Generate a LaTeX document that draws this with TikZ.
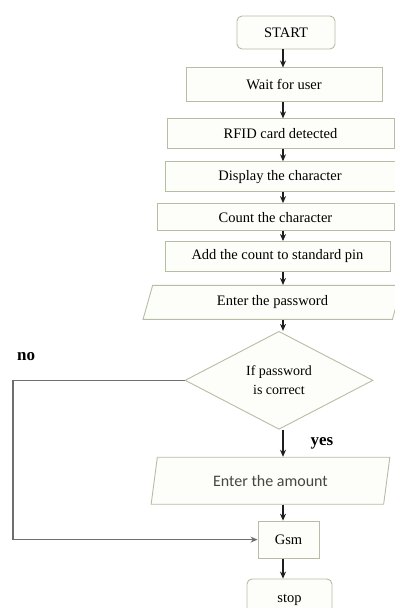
\documentclass[tikz,border=0pt]{standalone}
\usepackage{fontspec}
\setmainfont{Liberation Serif}
\newfontfamily\amountfont{Carlito}
\usepackage{tikz}
\usetikzlibrary{arrows.meta, positioning, shapes.geometric}
\definecolor{boxline}{RGB}{180, 190, 165}
\definecolor{boxfill}{RGB}{253, 253, 249}
\definecolor{arrowdark}{RGB}{30, 30, 30}
\definecolor{backgray}{RGB}{110, 110, 110}
\definecolor{amountgray}{RGB}{70, 70, 70}

\begin{document}
\begin{tikzpicture}[
  box/.style={rectangle, draw=boxline, fill=boxfill, line width=0.9pt,
              inner sep=2pt, text centered, font=\fontsize{14.5}{16}\selectfont},
  term/.style={box, rounded corners=5pt},
  io/.style={trapezium, trapezium stretches=true,
             trapezium left angle=75, trapezium right angle=105,
             draw=boxline, fill=boxfill, line width=0.9pt, inner sep=2pt,
             font=\fontsize{14.5}{16}\selectfont},
  decision/.style={diamond, draw=boxline, fill=boxfill, line width=0.9pt,
                   inner sep=0pt, align=center, font=\fontsize{14}{19}\selectfont},
  arrow/.style={-{Stealth[length=7pt, width=6pt]}, line width=1.1pt, draw=arrowdark},
  backline/.style={-{Stealth[length=7pt, width=6pt]}, line width=1.2pt, draw=backgray},
  branch/.style={font=\bfseries\fontsize{17}{19}\selectfont, inner sep=0pt}
]
\useasboundingbox (0,0) rectangle (395pt,-608pt);

\coordinate (axis) at (283pt,0);

\node[term, minimum width=98pt, minimum height=33pt] (start) at (286pt,-32.5pt) {START};
\node[box, minimum width=196pt, minimum height=34pt, below=18pt of start, xshift=-2pt] (wait) {Wait for user};
\node[box, minimum width=227pt, minimum height=30pt, below=16pt of wait, xshift=-3.5pt] (rfid) {RFID card detected};
\node[box, minimum width=230pt, minimum height=30pt, below=12pt of rfid, xshift=-0.5pt] (disp) {Display the character};
\node[box, minimum width=237pt, minimum height=27pt, below=11pt of disp, xshift=-4.5pt] (count) {Count the character};
\node[box, minimum width=225pt, minimum height=30pt, below=10pt of count, xshift=2pt] (add) {Add the count to standard pin};
\node[io, minimum width=259pt, minimum height=34pt, below=13pt of add, xshift=-5pt] (pass) {Enter the password};
\node[decision, minimum width=188pt, minimum height=98pt, below=11pt of pass, xshift=6.5pt] (check) {If password\\is correct};
\node[io, trapezium left angle=78, trapezium right angle=102, minimum width=239pt, minimum height=47pt,
      below=27pt of check, xshift=-8.5pt, text=amountgray,
      font=\amountfont\fontsize{16}{18}\selectfont] (amount) {Enter the amount};
\node[box, minimum width=61pt, minimum height=37pt, below=16pt of amount, xshift=18pt] (gsm) {Gsm};
\node[term, minimum width=85pt, minimum height=42pt, below=20pt of gsm, xshift=1pt] (stop) {stop};

% main flow
\draw[arrow] (axis |- start.south) -- (axis |- wait.north);
\draw[arrow] (axis |- wait.south)  -- (axis |- rfid.north);
\draw[arrow] (axis |- rfid.south)  -- (axis |- disp.north);
\draw[arrow] (axis |- disp.south)  -- (axis |- count.north);
\draw[arrow] (axis |- count.south) -- (axis |- add.north);
\draw[arrow] (axis |- add.south)   -- (axis |- pass.north);
\draw[arrow] (axis |- pass.south)  -- (axis |- check.north);
\draw[arrow] (axis |- check.south) -- node[branch, right, xshift=27pt]{yes} (axis |- amount.north);
\draw[arrow] (axis |- amount.south) -- (axis |- gsm.north);
\draw[arrow] (axis |- gsm.south)   -- (axis |- stop.north);

% no branch
\coordinate (noturn) at (13pt,0 |- check.west);
\node[branch, above right=19pt and 4pt of noturn, anchor=south west] (nolabel) {no};
\draw[backline] (check.west) -- (noturn) |- (gsm.west);

\end{tikzpicture}
\end{document}
